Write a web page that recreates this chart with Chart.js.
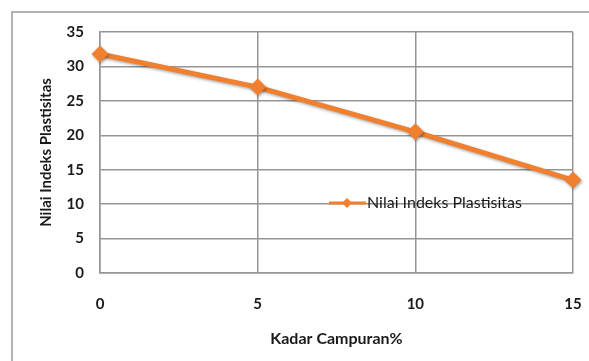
<!DOCTYPE html>
<html>
<head>
<meta charset="utf-8">
<script src="https://cdn.jsdelivr.net/npm/chart.js@4/dist/chart.umd.min.js"></script>
<style>
  html, body { margin: 0; padding: 0; background: #fff; }
  #wrap { position: relative; width: 589px; height: 361px; overflow: hidden; }
  #frame { position: absolute; left: 11px; top: 11px; width: 700px; height: 500px;
           border-left: 2px solid #b3b3b3; border-top: 2px solid #b3b3b3; }
  canvas { position: absolute; left: 0; top: 0; }
</style>
</head>
<body>
<div id="wrap">
  <div id="frame"></div>
  <canvas id="c" width="589" height="361"></canvas>
</div>
<script>
// Kadar campuran (%) and the plasticity index measured at each
const kadarCampuran = [0, 5, 10, 15];
const indeksPlastisitas = [31.8, 27, 20.5, 13.5];
const seriesName = 'Nilai Indeks Plastisitas';
const xTitle = 'Kadar Campuran%';
const yTitle = 'Nilai Indeks Plastisitas';

const ORANGE = '#F07F2E';
const GRID = '#959595';

// soft drop shadow under the line and markers
const shadowPlugin = {
  id: 'lineShadow',
  beforeDatasetsDraw(chart) {
    const ctx = chart.ctx;
    ctx.save();
    ctx.shadowColor = 'rgba(0,0,0,0.35)';
    ctx.shadowBlur = 3;
    ctx.shadowOffsetX = 1;
    ctx.shadowOffsetY = 1.5;
  },
  afterDatasetsDraw(chart) {
    chart.ctx.restore();
  }
};

// legend entry placed inside the plot area
const innerLegend = {
  id: 'innerLegend',
  afterDatasetsDraw(chart) {
    const ctx = chart.ctx;
    const a = chart.chartArea;
    const ds = chart.data.datasets[0];
    const x0 = a.left + 229, y = a.top + 171;
    ctx.save();
    ctx.strokeStyle = ds.borderColor;
    ctx.lineWidth = 3;
    ctx.beginPath();
    ctx.moveTo(x0, y);
    ctx.lineTo(x0 + 37, y);
    ctx.stroke();
    ctx.fillStyle = ds.borderColor;
    ctx.beginPath();
    const r = 5;
    ctx.moveTo(x0 + 18, y - r);
    ctx.lineTo(x0 + 18 + r, y);
    ctx.lineTo(x0 + 18, y + r);
    ctx.lineTo(x0 + 18 - r, y);
    ctx.closePath();
    ctx.fill();
    ctx.fillStyle = '#1a1a1a';
    ctx.font = '16px Lato';
    ctx.textBaseline = 'middle';
    ctx.textAlign = 'left';
    ctx.fillText(ds.label, x0 + 38, y);
    ctx.restore();
  }
};

new Chart(document.getElementById('c'), {
  type: 'line',
  data: {
    datasets: [{
      label: seriesName,
      data: kadarCampuran.map((k, i) => ({ x: k, y: indeksPlastisitas[i] })),
      borderColor: ORANGE,
      backgroundColor: ORANGE,
      borderWidth: 5,
      pointStyle: 'rectRot',
      pointRadius: 8.5,
      pointHoverRadius: 8.5,
      pointBorderWidth: 0,
      tension: 0,
      clip: false
    }]
  },
  options: {
    responsive: false,
    animation: false,
    devicePixelRatio: 1,
    layout: { padding: { top: 32, right: 16, left: 0, bottom: 0 } },
    plugins: {
      legend: { display: false },
      tooltip: { enabled: false }
    },
    scales: {
      x: {
        type: 'linear',
        min: 0, max: 15,
        ticks: { stepSize: 5, padding: 22, color: '#1a1a1a',
                 font: { family: 'Lato', size: 15, weight: 'bold' } },
        grid: { color: GRID, lineWidth: 1.5, drawTicks: false },
        border: { color: GRID, width: 1.5 },
        title: { display: true, text: xTitle, color: '#1a1a1a',
                 font: { family: 'Lato', size: 16, weight: 'bold' },
                 padding: { top: 0, bottom: 13 } },
        afterFit(scale) {
          scale.height = 88;
          scale.paddingLeft = 0;
          scale.paddingRight = 0;
        }
      },
      y: {
        min: 0, max: 35,
        ticks: { stepSize: 5, padding: 16, color: '#1a1a1a',
                 font: { family: 'Lato', size: 15, weight: 'bold' } },
        grid: { color: GRID, lineWidth: 1.5, drawTicks: false },
        border: { color: GRID, width: 1.5 },
        title: { display: true, text: yTitle, color: '#1a1a1a',
                 font: { family: 'Lato', size: 15, weight: 'bold' },
                 padding: { top: 37, bottom: 0 } },
        afterFit(scale) {
          scale.width = 100;
          scale.paddingTop = 0;
          scale.paddingBottom = 0;
        }
      }
    }
  },
  plugins: [shadowPlugin, innerLegend]
});
</script>
</body>
</html>
